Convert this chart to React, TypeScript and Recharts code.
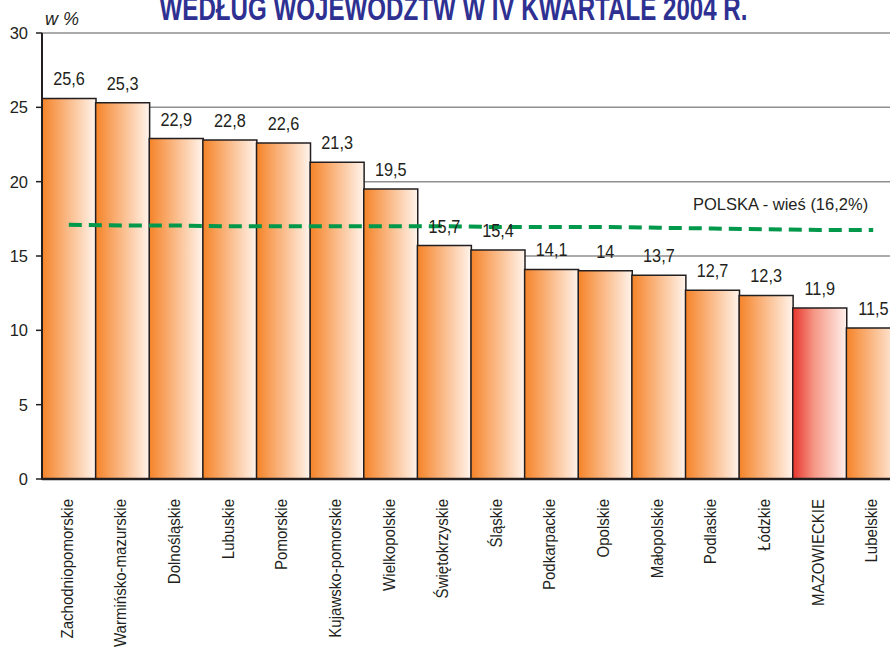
import { ComposedChart, Bar, Line, XAxis, YAxis, CartesianGrid, Cell, LabelList } from 'recharts'

const regions = [
  'Zachodniopomorskie', 'Warmińsko-mazurskie', 'Dolnośląskie', 'Lubuskie', 'Pomorskie',
  'Kujawsko-pomorskie', 'Wielkopolskie', 'Świętokrzyskie', 'Śląskie', 'Podkarpackie',
  'Opolskie', 'Małopolskie', 'Podlaskie', 'Łódzkie', 'MAZOWIECKIE', 'Lubelskie',
]
// bar heights as drawn
const rates = [25.6, 25.3, 22.9, 22.8, 22.6, 21.3, 19.5, 15.7, 15.4, 14.1, 14.0, 13.7, 12.7, 12.35, 11.5, 10.15]
// printed value labels
const rateLabels = ['25,6', '25,3', '22,9', '22,8', '22,6', '21,3', '19,5', '15,7', '15,4', '14,1', '14', '13,7', '12,7', '12,3', '11,9', '11,5']
// dashed "POLSKA - wieś" line
const polska = [17.1, 17.05, 17.05, 17.0, 17.0, 17.0, 17.0, 17.0, 16.95, 16.95, 16.95, 16.9, 16.85, 16.8, 16.75, 16.75]
const yTicks = [0, 5, 10, 15, 20, 25, 30]
const HIGHLIGHT = 'MAZOWIECKIE'

const FONT = '"Liberation Sans", Arial, sans-serif'
const INK = '#231f20'

const data = regions.map((name, i) => ({
  name,
  rate: rates[i],
  label: rateLabels[i],
  polska: polska[i],
}))

function RegionTick({ x, y, payload }: any) {
  return (
    <text
      transform={`translate(${x + 4},${y + 12}) rotate(-90) scale(0.94,1.06)`}
      textAnchor="end"
      fontSize={16}
      fontFamily={FONT}
      fill={INK}
    >
      {payload.value}
    </text>
  )
}

// value above the bar, in a slightly condensed face like the original
function ValueLabel({ x, y, width, value }: any) {
  return (
    <text
      transform={`translate(${x + width / 2},${y - 13}) scale(0.88,1)`}
      textAnchor="middle"
      fontSize={18.5}
      fontFamily={FONT}
      fill={INK}
    >
      {value}
    </text>
  )
}

export default function App() {
  return (
    <div style={{ position: 'absolute', left: 0, top: 0, width: 890, height: 654, overflow: 'hidden', background: '#fff' }}>
      <ComposedChart
        width={902}
        height={654}
        data={data}
        margin={{ top: 33, right: 2, bottom: 0, left: 8 }}
        barCategoryGap={0}
      >
        <defs>
          <linearGradient id="orangeBar" x1="0" y1="0" x2="1" y2="0">
            <stop offset="0%" stopColor="#f58328" />
            <stop offset="35%" stopColor="#f9ab6e" />
            <stop offset="100%" stopColor="#fff4ec" />
          </linearGradient>
          <linearGradient id="redBar" x1="0" y1="0" x2="1" y2="0">
            <stop offset="0%" stopColor="#e8342c" />
            <stop offset="40%" stopColor="#f59886" />
            <stop offset="100%" stopColor="#fff1ec" />
          </linearGradient>
        </defs>
        <CartesianGrid horizontal vertical={false} stroke="#8f8f8f" strokeWidth={1.5} />
        <XAxis
          dataKey="name"
          interval={0}
          height={175}
          tickLine={false}
          axisLine={{ stroke: INK, strokeWidth: 2.5 }}
          tick={<RegionTick />}
        />
        <YAxis
          domain={[0, 30]}
          ticks={yTicks}
          width={34}
          tickSize={6}
          tickMargin={8}
          tickLine={{ stroke: INK, strokeWidth: 1.5 }}
          axisLine={{ stroke: INK, strokeWidth: 2 }}
          tick={{ fontSize: 16.5, fontFamily: FONT, fill: INK }}
        />
        <Bar dataKey="rate" stroke={INK} strokeWidth={1.5} isAnimationActive={false}>
          {data.map((d) => (
            <Cell key={d.name} fill={d.name === HIGHLIGHT ? 'url(#redBar)' : 'url(#orangeBar)'} />
          ))}
          <LabelList dataKey="label" content={<ValueLabel />} />
        </Bar>
        <Line
          dataKey="polska"
          stroke="#00984a"
          strokeWidth={4}
          strokeDasharray="13 7"
          dot={false}
          activeDot={false}
          isAnimationActive={false}
        />
      </ComposedChart>
      <svg width={890} height={654} style={{ position: 'absolute', left: 0, top: 0, pointerEvents: 'none' }}>
        <text
          transform="translate(453.5,20) scale(0.71,1)"
          textAnchor="middle"
          fontFamily={FONT}
          fontWeight="bold"
          fontSize={34}
          fill="#2e3192"
        >
          WEDŁUG WOJEWÓDZTW W IV KWARTALE 2004 R.
        </text>
        <text x={45} y={25} fontFamily={FONT} fontStyle="italic" fontSize={18} fill={INK}>
          w %
        </text>
        <text x={693} y={210} fontFamily={FONT} fontSize={16.5} fill={INK}>
          POLSKA - wieś (16,2%)
        </text>
      </svg>
    </div>
  )
}
